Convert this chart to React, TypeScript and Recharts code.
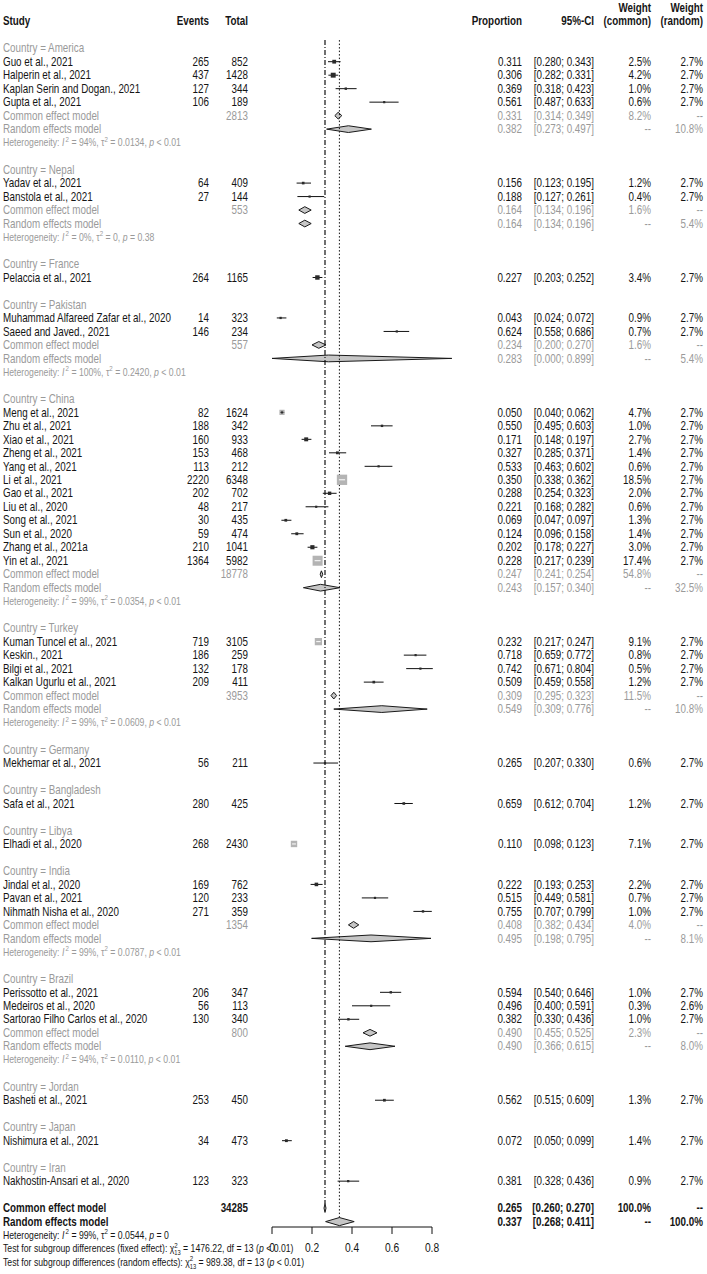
import React from "react";
import {
  ScatterChart,
  Scatter,
  XAxis,
  YAxis,
  ReferenceLine,
  ReferenceArea,
} from "recharts";

const FONT = "'Liberation Sans', Arial, sans-serif";
// the reference uses a narrow face; squeeze the regular one to match
const SX = 0.82;
const DARK = "#151515";
const GREY = "#9a9a9a";

// subgroups
const countries = [
  "America", "Nepal", "France", "Pakistan", "China", "Turkey", "Germany",
  "Bangladesh", "Libya", "India", "Brazil", "Jordan", "Japan", "Iran",
];

// studies
const studyNames = [
  "Guo et al., 2021", "Halperin et al., 2021", "Kaplan Serin and Dogan., 2021", "Gupta et al., 2021",
  "Yadav et al., 2021", "Banstola et al., 2021",
  "Pelaccia et al., 2021",
  "Muhammad Alfareed Zafar et al., 2020", "Saeed and Javed., 2021",
  "Meng et al., 2021", "Zhu et al., 2021", "Xiao et al., 2021", "Zheng et al., 2021", "Yang et al., 2021",
  "Li et al., 2021", "Gao et al., 2021", "Liu et al., 2020", "Song et al., 2021", "Sun et al., 2020",
  "Zhang et al., 2021a", "Yin et al., 2021",
  "Kuman Tuncel et al., 2021", "Keskin., 2021", "Bilgi et al., 2021", "Kalkan Ugurlu et al., 2021",
  "Mekhemar et al., 2021",
  "Safa et al., 2021",
  "Elhadi et al., 2020",
  "Jindal et al., 2020", "Pavan et al., 2021", "Nihmath Nisha et al., 2020",
  "Perissotto et al., 2021", "Medeiros et al., 2020", "Sartorao Filho Carlos et al., 2020",
  "Basheti et al., 2021",
  "Nishimura et al., 2021",
  "Nakhostin-Ansari et al., 2020",
];
const studyGroup = [
  0, 0, 0, 0, 1, 1, 2, 3, 3, 4, 4, 4, 4, 4, 4, 4, 4, 4, 4, 4, 4,
  5, 5, 5, 5, 6, 7, 8, 9, 9, 9, 10, 10, 10, 11, 12, 13,
];
const events = [
  265, 437, 127, 106, 64, 27, 264, 14, 146, 82, 188, 160, 153, 113, 2220, 202, 48, 30, 59, 210, 1364,
  719, 186, 132, 209, 56, 280, 268, 169, 120, 271, 206, 56, 130, 253, 34, 123,
];
const totals = [
  852, 1428, 344, 189, 409, 144, 1165, 323, 234, 1624, 342, 933, 468, 212, 6348, 702, 217, 435, 474, 1041, 5982,
  3105, 259, 178, 411, 211, 425, 2430, 762, 233, 359, 347, 113, 340, 450, 473, 323,
];
const proportions = [
  0.311, 0.306, 0.369, 0.561, 0.156, 0.188, 0.227, 0.043, 0.624, 0.05, 0.55, 0.171, 0.327, 0.533, 0.35,
  0.288, 0.221, 0.069, 0.124, 0.202, 0.228, 0.232, 0.718, 0.742, 0.509, 0.265, 0.659, 0.11, 0.222, 0.515,
  0.755, 0.594, 0.496, 0.382, 0.562, 0.072, 0.381,
];
const ciLow = [
  0.28, 0.282, 0.318, 0.487, 0.123, 0.127, 0.203, 0.024, 0.558, 0.04, 0.495, 0.148, 0.285, 0.463, 0.338,
  0.254, 0.168, 0.047, 0.096, 0.178, 0.217, 0.217, 0.659, 0.671, 0.459, 0.207, 0.612, 0.098, 0.193, 0.449,
  0.707, 0.54, 0.4, 0.33, 0.515, 0.05, 0.328,
];
const ciHigh = [
  0.343, 0.331, 0.423, 0.633, 0.195, 0.261, 0.252, 0.072, 0.686, 0.062, 0.603, 0.197, 0.371, 0.602, 0.362,
  0.323, 0.282, 0.097, 0.158, 0.227, 0.239, 0.247, 0.772, 0.804, 0.558, 0.33, 0.704, 0.123, 0.253, 0.581,
  0.799, 0.646, 0.591, 0.436, 0.609, 0.099, 0.436,
];
const weightCommon = [
  2.5, 4.2, 1.0, 0.6, 1.2, 0.4, 3.4, 0.9, 0.7, 4.7, 1.0, 2.7, 1.4, 0.6, 18.5, 2.0, 0.6, 1.3, 1.4, 3.0, 17.4,
  9.1, 0.8, 0.5, 1.2, 0.6, 1.2, 7.1, 2.2, 0.7, 1.0, 1.0, 0.3, 1.0, 1.3, 1.4, 0.9,
];
const weightRandom = [
  2.7, 2.7, 2.7, 2.7, 2.7, 2.7, 2.7, 2.7, 2.7, 2.7, 2.7, 2.7, 2.7, 2.7, 2.7, 2.7, 2.7, 2.7, 2.7, 2.7, 2.7,
  2.7, 2.7, 2.7, 2.7, 2.7, 2.7, 2.7, 2.7, 2.7, 2.7, 2.7, 2.6, 2.7, 2.7, 2.7, 2.7,
];

// subgroup summaries: [estimate, lower, upper, weight]; null = single study
const subTotal = [2813, 553, null, 557, 18778, 3953, null, null, null, 1354, 800, null, null, null];
const subCommon = [
  [0.331, 0.314, 0.349, 8.2], [0.164, 0.134, 0.196, 1.6], null, [0.234, 0.2, 0.27, 1.6],
  [0.247, 0.241, 0.254, 54.8], [0.309, 0.295, 0.323, 11.5], null, null, null,
  [0.408, 0.382, 0.434, 4.0], [0.49, 0.455, 0.525, 2.3], null, null, null,
];
const subRandom = [
  [0.382, 0.273, 0.497, 10.8], [0.164, 0.134, 0.196, 5.4], null, [0.283, 0.0, 0.899, 5.4],
  [0.243, 0.157, 0.34, 32.5], [0.549, 0.309, 0.776, 10.8], null, null, null,
  [0.495, 0.198, 0.795, 8.1], [0.49, 0.366, 0.615, 8.0], null, null, null,
];
const subHet = [
  ["94%", "0.0134", "< 0.01"], ["0%", "0", "= 0.38"], null, ["100%", "0.2420", "< 0.01"],
  ["99%", "0.0354", "< 0.01"], ["99%", "0.0609", "< 0.01"], null, null, null,
  ["99%", "0.0787", "< 0.01"], ["94%", "0.0110", "< 0.01"], null, null, null,
];

// overall
const overallTotal = 34285;
const overallCommon = [0.265, 0.26, 0.27];
const overallRandom = [0.337, 0.268, 0.411];
const overallHet = ["99%", "0.0544", "= 0"];
const testFixed = ["1476.22", "13", "< 0.01"];
const testRandom = ["989.38", "13", "< 0.01"];

const xTicks = [0, 0.2, 0.4, 0.6, 0.8];

// text column anchors
const COL = { study: 3, events: 209, total: 248, prop: 522, ci: 594, wCommon: 651, wRandom: 703 };
const FOOT_STEP = 13.5;
const NOTE_SIZE = 10.6;

type LabelRow = { row: number; x: number; kind: string; idx: number };
type Point = { row: number; x: number; w: number };
type Diamond = { row: number; est: number; lo: number; hi: number; half: number };

const labelRows: LabelRow[] = [
  { row: -2.02, x: 0, kind: "head1", idx: 0 },
  { row: -1.05, x: 0, kind: "head2", idx: 0 },
];
const studyPoints: Point[] = [];
const ciSegments: { row: number; lo: number; hi: number }[] = [];
const diamonds: Diamond[] = [];

let r = 1;
countries.forEach((_, g) => {
  labelRows.push({ row: r++, x: 0, kind: "country", idx: g });
  studyNames.forEach((_n, i) => {
    if (studyGroup[i] !== g) return;
    labelRows.push({ row: r, x: 0, kind: "study", idx: i });
    studyPoints.push({ row: r, x: proportions[i], w: weightCommon[i] });
    ciSegments.push({ row: r, lo: ciLow[i], hi: ciHigh[i] });
    r++;
  });
  const sc = subCommon[g];
  const sr = subRandom[g];
  if (sc && sr) {
    labelRows.push({ row: r, x: 0, kind: "common", idx: g });
    diamonds.push({ row: r++, est: sc[0], lo: sc[1], hi: sc[2], half: 0.25 });
    labelRows.push({ row: r, x: 0, kind: "random", idx: g });
    diamonds.push({ row: r++, est: sr[0], lo: sr[1], hi: sr[2], half: 0.25 });
    labelRows.push({ row: r++, x: 0, kind: "het", idx: g });
  }
  r++;
});
const overallCommonRow = r;
labelRows.push({ row: r, x: 0, kind: "allCommon", idx: 0 });
diamonds.push({ row: r++, est: overallCommon[0], lo: overallCommon[1], hi: overallCommon[2], half: 0.32 });
const overallRandomRow = r;
labelRows.push({ row: r, x: 0, kind: "allRandom", idx: 0 });
diamonds.push({ row: r++, est: overallRandom[0], lo: overallRandom[1], hi: overallRandom[2], half: 0.3 });

const f3 = (v: number) => v.toFixed(3);
const ciText = (lo: number, hi: number) => `[${f3(lo)}; ${f3(hi)}]`;
const pct = (v: number) => `${v.toFixed(1)}%`;

function Txt({ x, y, anchor = "end", bold = false, color = DARK, size = 12, children }: any) {
  return (
    <g transform={`translate(${x},${y}) scale(${SX},1)`}>
      <text
        x={0}
        y={0}
        dy="0.35em"
        textAnchor={anchor}
        fontFamily={FONT}
        fontSize={size}
        fontWeight={bold ? 700 : 400}
        fill={color}
      >
        {children}
      </text>
    </g>
  );
}

function HetLine({ y, h, color }: any) {
  return (
    <g transform={`translate(${COL.study},${y}) scale(${SX},1)`}>
      <text x={0} y={0} dy="0.35em" fontFamily={FONT} fontSize={NOTE_SIZE} fill={color}>
        {"Heterogeneity: "}
        <tspan fontStyle="italic">I</tspan>
        <tspan dx={1.5} dy={-4.5} fontSize={7.5}>2</tspan>
        <tspan dy={4.5}>{` = ${h[0]}, \u03c4`}</tspan>
        <tspan dy={-4.5} fontSize={7.5}>2</tspan>
        <tspan dy={4.5}>{` = ${h[1]}, `}</tspan>
        <tspan fontStyle="italic">p</tspan>
        {` ${h[2]}`}
      </text>
    </g>
  );
}

function TestLine({ y, label, t }: any) {
  return (
    <g transform={`translate(${COL.study},${y}) scale(${SX},1)`}>
      <text x={0} y={0} dy="0.35em" fontFamily={FONT} fontSize={NOTE_SIZE} fill={DARK}>
        {`Test for subgroup differences (${label}): \u03c7`}
        <tspan dy={-4.5} fontSize={7.5}>2</tspan>
        <tspan dx={-4.2} dy={7.5} fontSize={7}>{t[1]}</tspan>
        <tspan dy={-3}>{` = ${t[0]}, df = ${t[1]} (`}</tspan>
        <tspan fontStyle="italic">p</tspan>
        {` ${t[2]})`}
      </text>
    </g>
  );
}

function AxisTick({ x, y, payload }: any) {
  const v = payload.value as number;
  return (
    <g transform={`translate(${x},${y}) scale(${SX},1)`}>
      <text x={0} y={0} dy="0.71em" textAnchor="middle" fontFamily={FONT} fontSize={12.5} fill={DARK}>
        {v === 0 ? "0" : v.toFixed(1)}
      </text>
    </g>
  );
}

function LabelShape(props: any) {
  const d: LabelRow = props.payload;
  const y = props.cy;
  if (d.kind === "head1") {
    return (
      <g>
        <Txt x={COL.wCommon} y={y} bold>Weight</Txt>
        <Txt x={COL.wRandom} y={y} bold>Weight</Txt>
      </g>
    );
  }
  if (d.kind === "head2") {
    return (
      <g>
        <Txt x={COL.study} y={y} anchor="start" bold>Study</Txt>
        <Txt x={COL.events} y={y} bold>Events</Txt>
        <Txt x={COL.total} y={y} bold>Total</Txt>
        <Txt x={COL.prop} y={y} bold>Proportion</Txt>
        <Txt x={COL.ci} y={y} bold>95%-CI</Txt>
        <Txt x={COL.wCommon} y={y} bold>(common)</Txt>
        <Txt x={COL.wRandom} y={y} bold>(random)</Txt>
      </g>
    );
  }
  if (d.kind === "country") {
    return <Txt x={COL.study} y={y} anchor="start" color={GREY}>{`Country = ${countries[d.idx]}`}</Txt>;
  }
  if (d.kind === "study") {
    const i = d.idx;
    return (
      <g>
        <Txt x={COL.study} y={y} anchor="start">{studyNames[i]}</Txt>
        <Txt x={COL.events} y={y}>{events[i]}</Txt>
        <Txt x={COL.total} y={y}>{totals[i]}</Txt>
        <Txt x={COL.prop} y={y}>{f3(proportions[i])}</Txt>
        <Txt x={COL.ci} y={y}>{ciText(ciLow[i], ciHigh[i])}</Txt>
        <Txt x={COL.wCommon} y={y}>{pct(weightCommon[i])}</Txt>
        <Txt x={COL.wRandom} y={y}>{pct(weightRandom[i])}</Txt>
      </g>
    );
  }
  if (d.kind === "common") {
    const s = subCommon[d.idx] as number[];
    return (
      <g>
        <Txt x={COL.study} y={y} anchor="start" color={GREY}>Common effect model</Txt>
        <Txt x={COL.total} y={y} color={GREY}>{subTotal[d.idx]}</Txt>
        <Txt x={COL.prop} y={y} color={GREY}>{f3(s[0])}</Txt>
        <Txt x={COL.ci} y={y} color={GREY}>{ciText(s[1], s[2])}</Txt>
        <Txt x={COL.wCommon} y={y} color={GREY}>{pct(s[3])}</Txt>
        <Txt x={COL.wRandom} y={y} color={GREY}>--</Txt>
      </g>
    );
  }
  if (d.kind === "random") {
    const s = subRandom[d.idx] as number[];
    return (
      <g>
        <Txt x={COL.study} y={y} anchor="start" color={GREY}>Random effects model</Txt>
        <Txt x={COL.prop} y={y} color={GREY}>{f3(s[0])}</Txt>
        <Txt x={COL.ci} y={y} color={GREY}>{ciText(s[1], s[2])}</Txt>
        <Txt x={COL.wCommon} y={y} color={GREY}>--</Txt>
        <Txt x={COL.wRandom} y={y} color={GREY}>{pct(s[3])}</Txt>
      </g>
    );
  }
  if (d.kind === "het") {
    return <HetLine y={y} h={subHet[d.idx]} color={GREY} />;
  }
  if (d.kind === "allCommon") {
    return (
      <g>
        <Txt x={COL.study} y={y} anchor="start" bold>Common effect model</Txt>
        <Txt x={COL.total} y={y} bold>{overallTotal}</Txt>
        <Txt x={COL.prop} y={y} bold>{f3(overallCommon[0])}</Txt>
        <Txt x={COL.ci} y={y} bold>{ciText(overallCommon[1], overallCommon[2])}</Txt>
        <Txt x={COL.wCommon} y={y} bold>100.0%</Txt>
        <Txt x={COL.wRandom} y={y} bold>--</Txt>
      </g>
    );
  }
  // overall random + footnotes
  return (
    <g>
      <Txt x={COL.study} y={y} anchor="start" bold>Random effects model</Txt>
      <Txt x={COL.prop} y={y} bold>{f3(overallRandom[0])}</Txt>
      <Txt x={COL.ci} y={y} bold>{ciText(overallRandom[1], overallRandom[2])}</Txt>
      <Txt x={COL.wCommon} y={y} bold>--</Txt>
      <Txt x={COL.wRandom} y={y} bold>100.0%</Txt>
      <HetLine y={y + FOOT_STEP} h={overallHet} color={DARK} />
      <TestLine y={y + 2 * FOOT_STEP} label="fixed effect" t={testFixed} />
      <TestLine y={y + 3 * FOOT_STEP} label="random effects" t={testRandom} />
    </g>
  );
}

function SquareShape(props: any) {
  const { cx, cy, payload } = props;
  const s = 2.4 * Math.sqrt(payload.w);
  if (s < 5) {
    const a = Math.max(s, 2.2);
    return <rect x={cx - a / 2} y={cy - a / 2} width={a} height={a} fill="#2a2a2a" />;
  }
  return (
    <g>
      <rect x={cx - s / 2} y={cy - s / 2} width={s} height={s} fill="#b4b4b4" />
      {s < 6 ? (
        <path d={`M${cx - 1.5},${cy}H${cx + 1.5}M${cx},${cy - 1.5}V${cy + 1.5}`} stroke="#222" />
      ) : (
        <path d={`M${cx - s * 0.3},${cy}H${cx + s * 0.3}`} stroke="#fff" />
      )}
    </g>
  );
}

const diamondShape = (d: Diamond) => (p: any) => {
  const { x, y, width, height } = p;
  const ax = x + (width * (d.est - d.lo)) / (d.hi - d.lo);
  const my = y + height / 2;
  return (
    <polygon
      points={`${x},${my} ${ax},${y} ${x + width},${my} ${ax},${y + height}`}
      fill="#c6c6c6"
      stroke="#1a1a1a"
      strokeWidth={1}
    />
  );
};

export default function App() {
  return (
    <div style={{ position: "absolute", left: 0, top: 0, width: 707, height: 1274, background: "#fff" }}>
      <ScatterChart width={707} height={1274} margin={{ top: 1, right: 275, bottom: 17, left: 272 }}>
        <XAxis
          type="number"
          dataKey="x"
          domain={[0, 0.8]}
          ticks={xTicks}
          interval={0}
          tickSize={7}
          tickMargin={9}
          height={30}
          axisLine={{ stroke: "#111" }}
          tickLine={{ stroke: "#111" }}
          tick={<AxisTick />}
        />
        <YAxis type="number" dataKey="row" domain={[-2.5, 88.4]} reversed hide />
        <ReferenceLine
          segment={[{ x: overallCommon[0], y: 0.4 }, { x: overallCommon[0], y: overallCommonRow - 0.3 }]}
          stroke="#111"
          strokeWidth={1.2}
          strokeDasharray="5 2 1 2"
          ifOverflow="visible"
        />
        <ReferenceLine
          segment={[{ x: overallRandom[0], y: 0.4 }, { x: overallRandom[0], y: overallRandomRow - 0.3 }]}
          stroke="#111"
          strokeDasharray="1.5 2"
          ifOverflow="visible"
        />
        {ciSegments.map((c, k) => (
          <ReferenceLine
            key={`ci${k}`}
            segment={[{ x: c.lo, y: c.row }, { x: c.hi, y: c.row }]}
            stroke="#111"
            strokeWidth={1}
            ifOverflow="visible"
          />
        ))}
        {diamonds.map((d, k) => (
          <ReferenceArea
            key={`dm${k}`}
            x1={d.lo}
            x2={d.hi}
            y1={d.row - d.half}
            y2={d.row + d.half}
            ifOverflow="visible"
            shape={diamondShape(d)}
          />
        ))}
        <Scatter data={studyPoints} shape={SquareShape} isAnimationActive={false} />
        <Scatter data={labelRows} shape={LabelShape} isAnimationActive={false} />
      </ScatterChart>
    </div>
  );
}
